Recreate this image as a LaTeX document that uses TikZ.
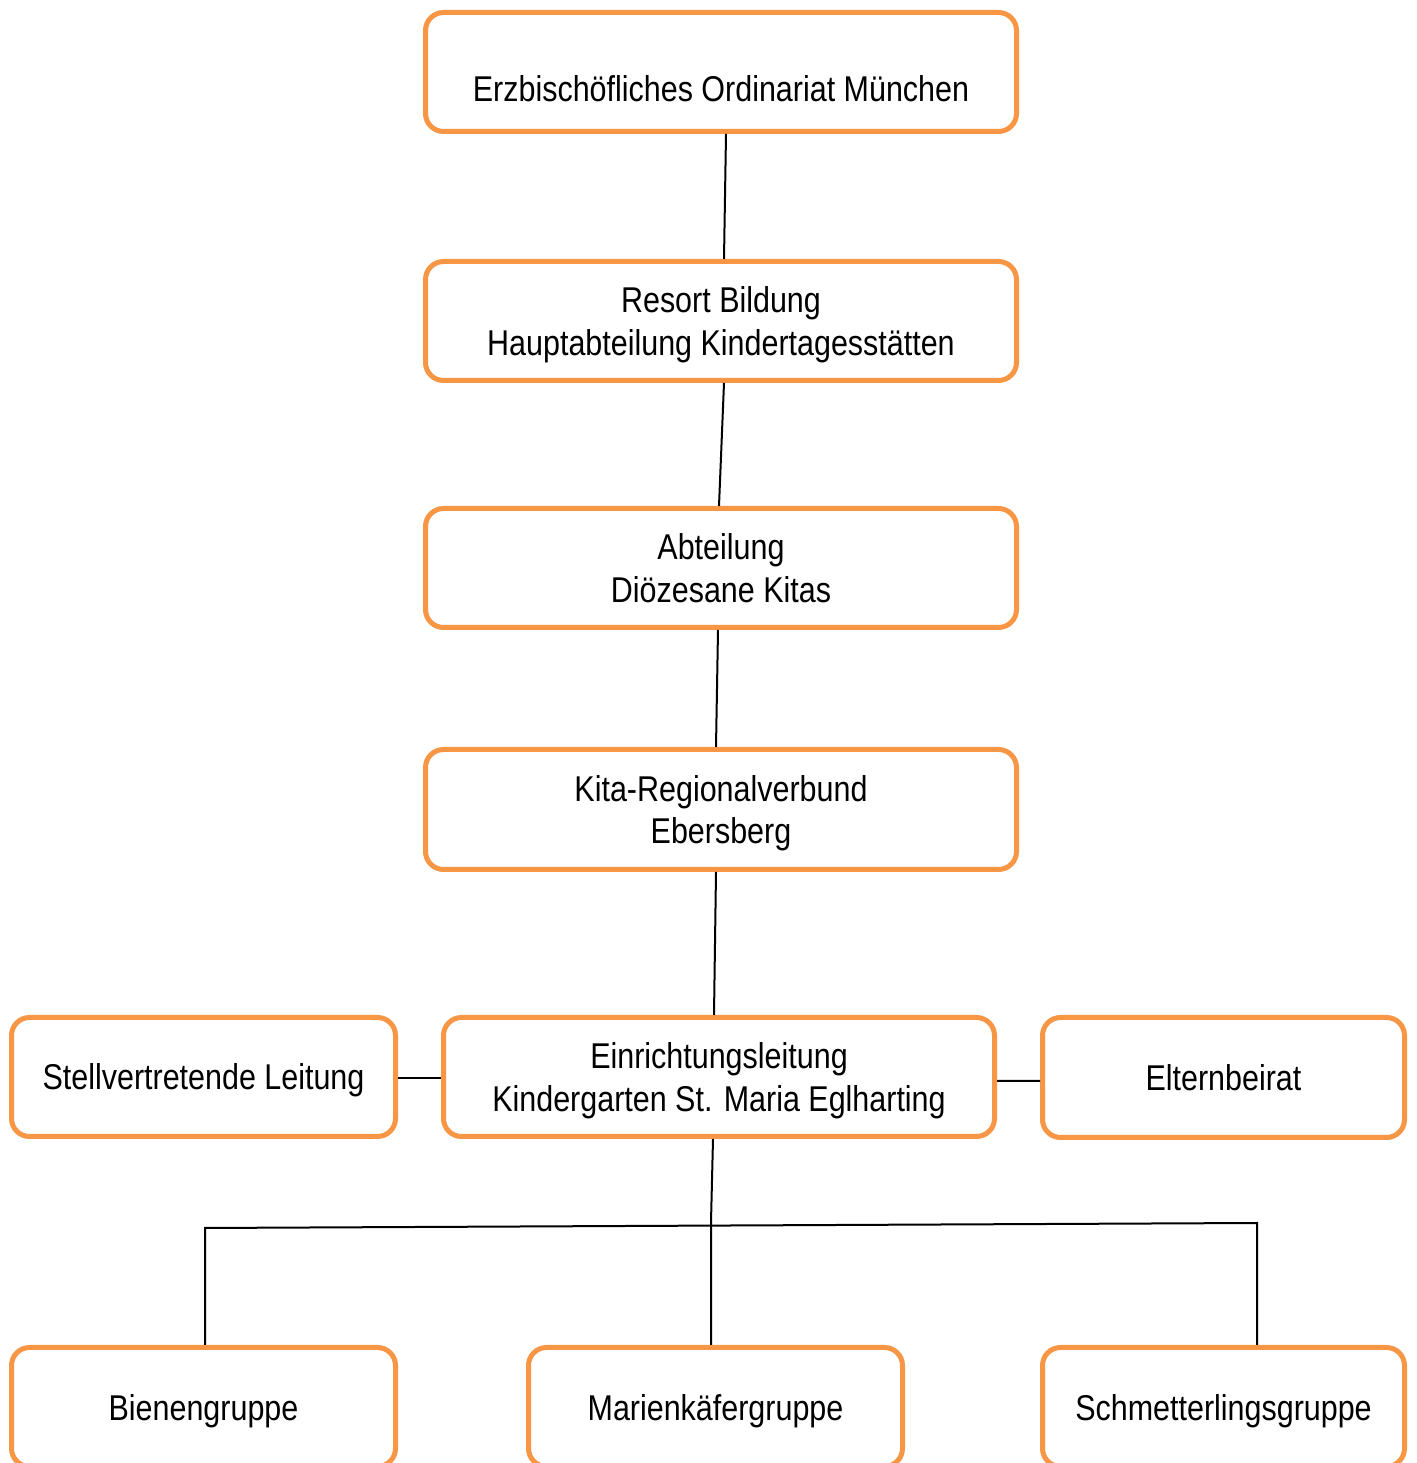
\documentclass[tikz,border=0pt]{standalone}
\usepackage{fontspec}
\setmainfont{Liberation Sans}[FakeStretch=0.85]
\usepackage{tikz}
\usetikzlibrary{positioning}

\newcommand{\boxstrut}{\rule[-0.08cm]{0pt}{0.42cm}}

\begin{document}
\begin{tikzpicture}[
  box/.style={draw=cbox,fill=white,line width=0.05cm,rounded corners=0.18cm,
    align=center,inner sep=0pt,font=\fontsize{10.2}{12.2}\selectfont,text=clbox,
    execute at begin node=\boxstrut,execute at end node=\boxstrut},
  twoline/.style={text depth=0cm},
  conn/.style={draw=cconn,line width=0.02cm}]
%
\useasboundingbox (0,0) rectangle (14.16cm,14.63cm);
%
\definecolor{cbox}{rgb}{0.97,0.59,0.27}
\definecolor{clbox}{rgb}{0.0,0.0,0.0}
\definecolor{cconn}{rgb}{0.0,0.0,0.0}
%
\node[box,minimum width=5.91cm,minimum height=1.19cm,text height=0.674cm,text depth=0.08cm] (ordinariat) at (7.21cm,13.91cm) {Erzbischöfliches Ordinariat München};
\node[box,twoline,minimum width=5.91cm,minimum height=1.19cm] (resort) at (7.21cm,11.42cm) {Resort Bildung\\Hauptabteilung Kindertagesstätten};
\node[box,twoline,minimum width=5.91cm,minimum height=1.19cm] (abteilung) at (7.21cm,8.95cm) {Abteilung\\Diözesane Kitas};
\node[box,twoline,minimum width=5.91cm,minimum height=1.20cm] (verbund) at (7.21cm,6.535cm) {Kita-Regionalverbund\\Ebersberg};
\node[box,twoline,minimum width=5.51cm,minimum height=1.19cm] (leitung) at (7.19cm,3.86cm) {Einrichtungsleitung\\Kindergarten St. Maria Eglharting};
\node[box,minimum width=3.84cm,minimum height=1.19cm] (stellv) at (2.035cm,3.86cm) {Stellvertretende Leitung};
\node[box,minimum width=3.62cm,minimum height=1.20cm] (eltern) at (12.235cm,3.855cm) {Elternbeirat};
\node[box,minimum width=3.84cm,minimum height=1.19cm] (bienen) at (2.035cm,0.56cm) {Bienengruppe};
\node[box,minimum width=3.74cm,minimum height=1.19cm] (marien) at (7.155cm,0.56cm) {Marienkäfergruppe};
\node[box,minimum width=3.62cm,minimum height=1.19cm] (schmett) at (12.235cm,0.56cm) {Schmetterlingsgruppe};
%
\coordinate (jl) at (2.05cm,2.35cm);
\coordinate (jm) at (7.11cm,2.41cm);
\coordinate (jr) at (12.57cm,2.40cm);
%
\draw[conn] ([xshift=0.05cm]ordinariat.south) -- ([xshift=0.03cm]resort.north);
\draw[conn] ([xshift=0.03cm]resort.south) -- ([xshift=-0.02cm]abteilung.north);
\draw[conn] ([xshift=-0.03cm]abteilung.south) -- ([xshift=-0.05cm]verbund.north);
\draw[conn] ([xshift=-0.05cm]verbund.south) -- ([xshift=-0.05cm]leitung.north);
\draw[conn] ([yshift=-0.01cm]stellv.east) -- ([yshift=-0.01cm]leitung.west);
\draw[conn] ([yshift=-0.04cm]leitung.east) -- ([yshift=-0.035cm]eltern.west);
\draw[conn] ([xshift=-0.06cm]leitung.south) -- (jm) -- ([xshift=-0.045cm]marien.north);
\draw[conn] (jl |- bienen.north) -- (jl) -- (jr) -- (jr |- schmett.north);
%
\end{tikzpicture}
\end{document}
